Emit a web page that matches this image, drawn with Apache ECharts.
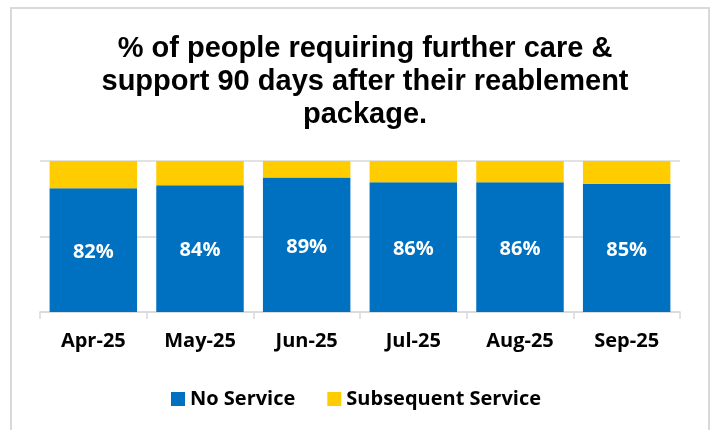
<!DOCTYPE html>
<html>
<head>
<meta charset="utf-8">
<style>
  html, body { margin: 0; padding: 0; background: #ffffff; }
  #chart { width: 712px; height: 430px; }
</style>
<script src="https://cdn.jsdelivr.net/npm/echarts@6/dist/echarts.min.js"></script>
</head>
<body>
<div id="chart"></div>
<script>
// Monthly split of reablement outcomes at 90 days
const months = ['Apr-25', 'May-25', 'Jun-25', 'Jul-25', 'Aug-25', 'Sep-25'];
const noService = [82, 84, 89, 86, 86, 85];
const subsequentService = [18, 16, 11, 14, 14, 15];
const seriesNames = ['No Service', 'Subsequent Service'];

const chart = echarts.init(document.getElementById('chart'), null, { renderer: 'canvas' });

const labelFont = '"Open Sans", sans-serif';

chart.setOption({
  animation: false,
  backgroundColor: '#ffffff',
  graphic: [{
    type: 'rect',
    shape: { x: 11, y: 8, width: 698, height: 440 },
    style: { fill: 'none', stroke: '#d9d9d9', lineWidth: 2 },
    silent: true,
    z: -1
  }],
  title: {
    text: '% of people requiring further care &\nsupport 90 days after their reablement\npackage.',
    left: 360,
    textAlign: 'center',
    top: 27,
    textStyle: {
      fontFamily: '"Liberation Sans", Arial, sans-serif',
      fontWeight: 'bold',
      fontSize: 29,
      lineHeight: 33,
      color: '#000000'
    }
  },
  legend: {
    data: seriesNames,
    top: 384,
    left: 'center',
    icon: 'rect',
    itemWidth: 14,
    itemHeight: 14,
    itemGap: 32,
    textStyle: {
      fontFamily: labelFont,
      fontWeight: 'bold',
      fontSize: 20,
      color: '#000000'
    }
  },
  grid: { left: 40, right: 32, top: 161, bottom: 118 },
  xAxis: {
    type: 'category',
    data: months,
    axisLine: { lineStyle: { color: '#d9d9d9', width: 1.5 } },
    axisTick: { show: true, length: 7, lineStyle: { color: '#d9d9d9', width: 1.5 } },
    axisLabel: {
      margin: 19,
      fontFamily: labelFont,
      fontWeight: 'bold',
      fontSize: 20,
      color: '#000000'
    }
  },
  yAxis: {
    type: 'value',
    min: 0,
    max: 100,
    interval: 50,
    axisLabel: { show: false },
    axisLine: { show: false },
    axisTick: { show: false },
    splitLine: { lineStyle: { color: '#d9d9d9', width: 1.5 } }
  },
  series: [
    {
      name: seriesNames[0],
      type: 'bar',
      stack: 'total',
      data: noService,
      barWidth: '82%',
      itemStyle: { color: '#0070c0' },
      label: {
        show: true,
        position: 'inside',
        offset: [0, 2],
        formatter: '{c}%',
        fontFamily: labelFont,
        fontWeight: 'bold',
        fontSize: 20,
        color: '#ffffff'
      }
    },
    {
      name: seriesNames[1],
      type: 'bar',
      stack: 'total',
      data: subsequentService,
      barWidth: '82%',
      itemStyle: { color: '#ffcc00' },
      label: { show: false }
    }
  ]
});
</script>
</body>
</html>
